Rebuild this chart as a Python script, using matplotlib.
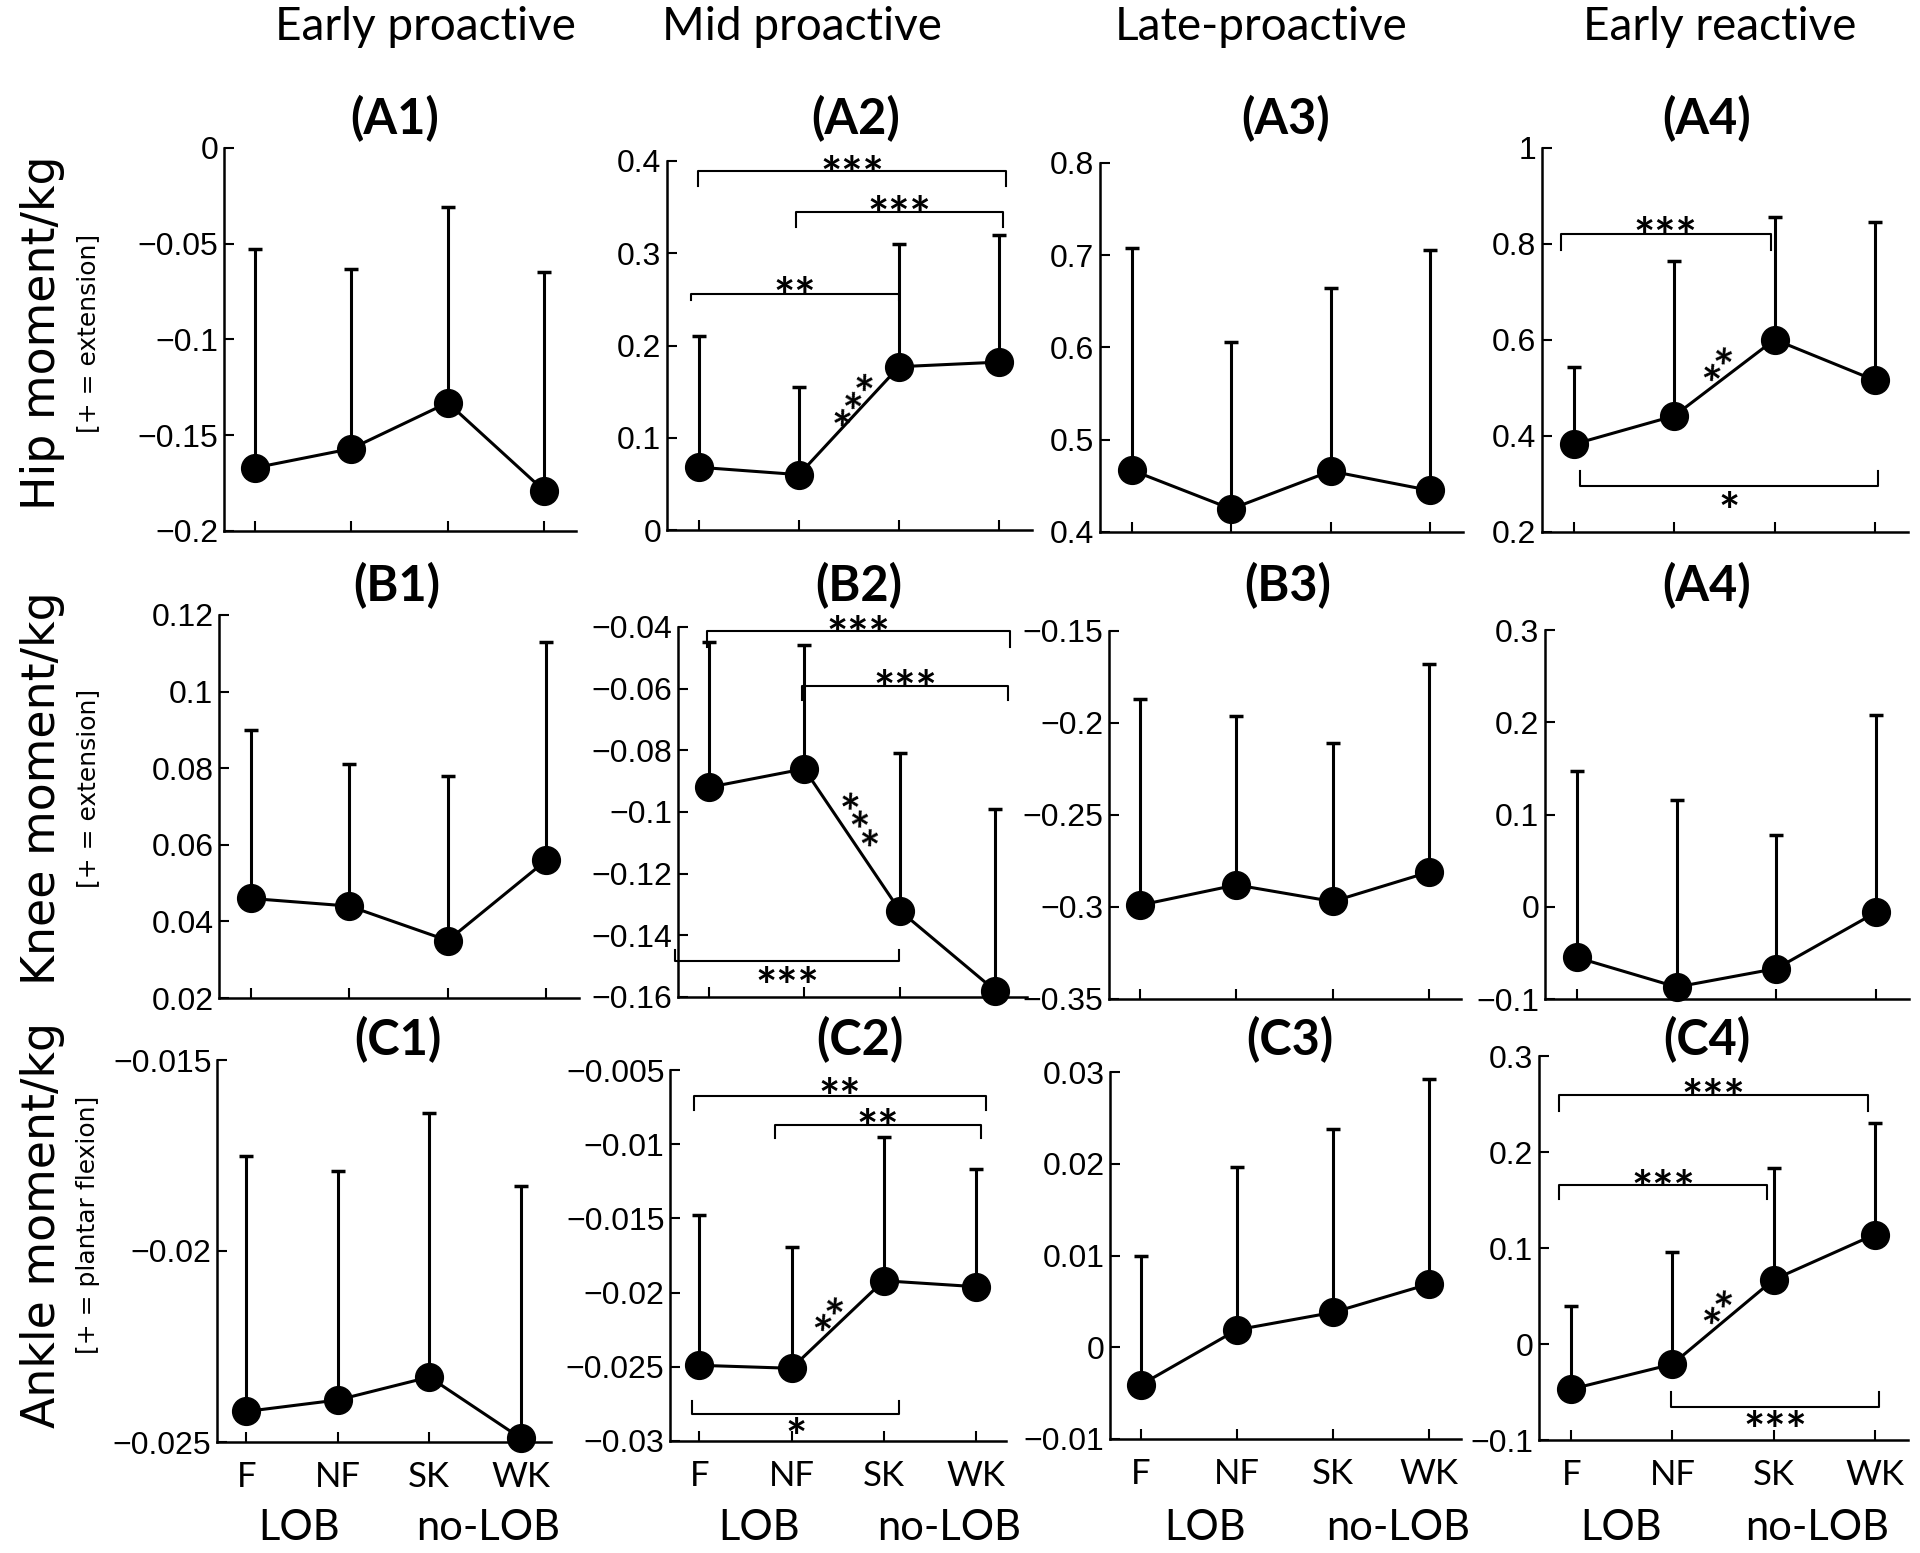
import numpy as np
import matplotlib.pyplot as plt

conditions = ['F', 'NF', 'SK', 'WK']
phases = ['Early proactive', 'Mid proactive', 'Late-proactive', 'Early reactive']
panel_labels = [['(A1)', '(A2)', '(A3)', '(A4)'],
                ['(B1)', '(B2)', '(B3)', '(A4)'],
                ['(C1)', '(C2)', '(C3)', '(C4)']]
row_labels = ['Hip moment/kg', 'Knee moment/kg', 'Ankle moment/kg']
row_notes = ['[+ = extension]', '[+ = extension]', '[+ = plantar flexion]']

# mean values and top of the (one-sided) SD bar, one list per phase
hip_mean = [[-0.167, -0.157, -0.133, -0.179], [0.068, 0.060, 0.177, 0.182],
            [0.467, 0.425, 0.466, 0.445], [0.383, 0.442, 0.601, 0.516]]
hip_upper = [[-0.053, -0.063, -0.031, -0.065], [0.210, 0.155, 0.310, 0.320],
             [0.708, 0.606, 0.664, 0.706], [0.543, 0.765, 0.857, 0.845]]
knee_mean = [[0.046, 0.044, 0.035, 0.056], [-0.092, -0.086, -0.132, -0.158],
             [-0.299, -0.288, -0.297, -0.281], [-0.055, -0.087, -0.067, -0.006]]
knee_upper = [[0.090, 0.081, 0.078, 0.113], [-0.045, -0.046, -0.081, -0.099],
              [-0.187, -0.196, -0.211, -0.168], [0.147, 0.116, 0.078, 0.208]]
ankle_mean = [[-0.0242, -0.0239, -0.0233, -0.0249], [-0.0249, -0.0251, -0.0192, -0.0196],
              [-0.0041, 0.0019, 0.0038, 0.0069], [-0.047, -0.021, 0.067, 0.114]]
ankle_upper = [[-0.0175, -0.0179, -0.0164, -0.0183], [-0.0148, -0.0169, -0.0095, -0.0117],
               [0.0099, 0.0196, 0.0238, 0.0292], [0.040, 0.096, 0.183, 0.230]]

ylims = [[(-0.2, 0), (0, 0.4), (0.4, 0.8), (0.2, 1.0)],
         [(0.02, 0.12), (-0.16, -0.04), (-0.35, -0.15), (-0.1, 0.3)],
         [(-0.025, -0.015), (-0.03, -0.005), (-0.01, 0.03), (-0.1, 0.3)]]
ysteps = [[0.05, 0.1, 0.1, 0.2],
          [0.02, 0.02, 0.05, 0.1],
          [0.005, 0.005, 0.01, 0.1]]

means = [hip_mean, knee_mean, ankle_mean]
uppers = [hip_upper, knee_upper, ankle_upper]

W, H = 1920, 1553
fig = plt.figure(figsize=(W / 100, H / 100), dpi=100)

# axes boxes in pixels: left, right, top, bottom
boxes = [[(224, 576, 148, 531), (667, 1032, 161, 530), (1100, 1463, 163, 532), (1542, 1908, 148, 532)],
         [(219, 579, 615, 998), (678, 1027, 627, 997), (1109, 1461, 631, 999), (1545, 1909, 630, 999)],
         [(217, 551, 1060, 1442), (670, 1006, 1070, 1441), (1110, 1461, 1072, 1439), (1539, 1908, 1056, 1440)]]

# significance brackets: (row, col, x1, x2, y, tip_y, label, star centre y)
brackets = [
    (0, 1, 0.99, 4.07, 0.389, 0.373, '***', 0.400),
    (0, 1, 1.97, 4.04, 0.345, 0.328, '***', 0.356),
    (0, 1, 0.92, 3.00, 0.256, 0.249, '**', 0.268),
    (0, 3, 0.87, 2.96, 0.820, 0.787, '***', 0.844),
    (0, 3, 1.06, 4.03, 0.296, 0.327, '*', 0.271),
    (1, 1, 0.98, 4.15, -0.0412, -0.0464, '***', -0.0383),
    (1, 1, 1.98, 4.13, -0.059, -0.0637, '***', -0.0556),
    (1, 1, 0.65, 2.99, -0.1483, -0.1448, '***', -0.1520),
    (2, 1, 0.94, 4.11, -0.00672, -0.0077, '**', -0.0059),
    (2, 1, 1.82, 4.06, -0.00868, -0.0096, '**', -0.0080),
    (2, 1, 0.92, 3.17, -0.0282, -0.0273, '*', -0.0288),
    (2, 3, 0.88, 3.93, 0.259, 0.243, '***', 0.270),
    (2, 3, 0.88, 2.94, 0.166, 0.151, '***', 0.176),
    (2, 3, 1.99, 4.04, -0.066, -0.0495, '***', -0.076),
]
# rotated stars along a segment: (row, col, x, y, label, angle)
slope_stars = [
    (0, 1, 2.52, 0.145, '***', 58),
    (0, 3, 2.42, 0.557, '**', 55),
    (1, 1, 2.58, -0.1026, '***', -62),
    (2, 1, 2.39, -0.0212, '**', 55),
    (2, 3, 2.43, 0.0426, '**', 55),
]

tick_font = ['Liberation Sans', 'DejaVu Sans']
head_font = ['Lato', 'DejaVu Sans']
star_size = 36
x = np.arange(1, 5)


def fmt(v):
    if abs(v) < 1e-9:
        return '0'
    return ('%g' % v).replace('-', '\u2212')


axes = {}
for r in range(3):
    for c in range(4):
        l, rr, t, b = boxes[r][c]
        ax = fig.add_axes([l / W, 1 - b / H, (rr - l) / W, (b - t) / H])
        axes[(r, c)] = ax
        m = np.array(means[r][c])
        up = np.array(uppers[r][c])
        ax.errorbar(x, m, yerr=[np.zeros(4), up - m], fmt='none', ecolor='black',
                    elinewidth=2.2, capsize=5, capthick=2.5, zorder=2)
        ax.plot(x, m, '-o', color='black', lw=2.2, markersize=20, zorder=3, clip_on=False)
        lo, hi = ylims[r][c]
        ax.set_xlim(0.68, 4.33)
        ax.set_ylim(lo, hi)
        step = ysteps[r][c]
        ticks = np.round(np.arange(lo, hi + step / 2, step), 6)
        ax.set_yticks(ticks)
        ax.set_yticklabels([fmt(v) for v in ticks], family=tick_font, fontsize=23)
        ax.set_xticks(x)
        if r == 2:
            ax.set_xticklabels(conditions, family=head_font, fontsize=25)
        else:
            ax.set_xticklabels([])
        ax.spines['top'].set_visible(False)
        ax.spines['right'].set_visible(False)
        for s in ['left', 'bottom']:
            ax.spines[s].set_linewidth(1.8)
        ax.tick_params(direction='in', length=7, width=1.5, pad=4)
        ax.tick_params(axis='x', pad=14)
        ax.set_facecolor('none')


def stars(ax, xs, ys, lab, ang=0):
    # shift so the asterisks (which sit high in the em box) are centred on the point
    d = 0.34 * star_size
    th = np.deg2rad(ang)
    ax.annotate(lab, (xs, ys), xytext=(d * np.sin(th), -d * np.cos(th)),
                textcoords='offset points', ha='center', va='center',
                fontsize=star_size, fontweight='bold', family=head_font, rotation=ang,
                rotation_mode='anchor', annotation_clip=False)


for (r, c, x1, x2, y, tip, lab, ty) in brackets:
    ax = axes[(r, c)]
    ax.plot([x1, x1, x2, x2], [tip, y, y, tip], color='black', lw=1.5, clip_on=False, zorder=1)
    stars(ax, (x1 + x2) / 2, ty, lab)

for (r, c, xs, ys, lab, ang) in slope_stars:
    stars(axes[(r, c)], xs, ys, lab, ang)

# column headers
col_x = [425, 802, 1261, 1720]
for c in range(4):
    fig.text(col_x[c] / W, 1 - 27 / H, phases[c], ha='center', va='center',
             fontsize=33, family=head_font)

# panel titles
title_x = [[395, 856, 1286, 1707], [397, 859, 1288, 1707], [398, 860, 1290, 1707]]
title_y = [119, 586, 1040]
for r in range(3):
    for c in range(4):
        fig.text(title_x[r][c] / W, 1 - title_y[r] / H, panel_labels[r][c], ha='center',
                 va='center', fontsize=35, fontweight='bold', family=head_font)

# row labels
row_y = [333, 788, 1225]
for r in range(3):
    fig.text(43 / W, 1 - row_y[r] / H, row_labels[r], rotation=90, ha='center',
             va='center', fontsize=33, family='DejaVu Sans')
    fig.text(88 / W, 1 - row_y[r] / H, row_notes[r], rotation=90, ha='center',
             va='center', fontsize=18, family='DejaVu Sans')

# group labels below the bottom row
lob_x = [(299, 488), (759, 949), (1205, 1398), (1621, 1817)]
for a, b in lob_x:
    fig.text(a / W, 1 - 1528 / H, 'LOB', ha='center', va='center', fontsize=30, family=head_font)
    fig.text(b / W, 1 - 1528 / H, 'no-LOB', ha='center', va='center', fontsize=30, family=head_font)

fig.savefig('out.png', dpi=100)
